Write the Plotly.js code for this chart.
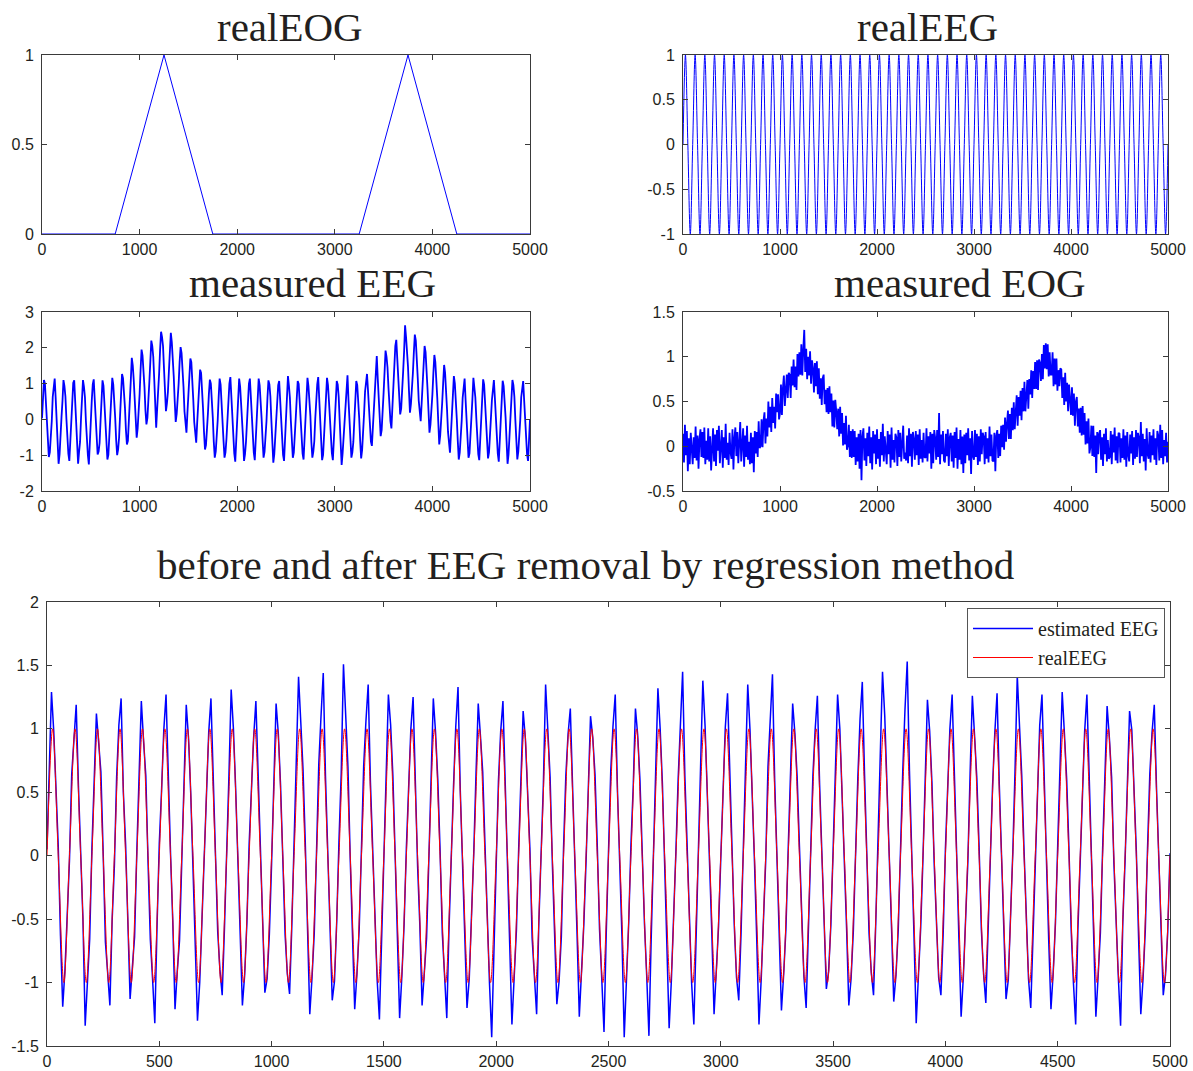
<!DOCTYPE html>
<html>
<head>
<meta charset="utf-8">
<script src="https://cdn.plot.ly/plotly-3.0.1.min.js"></script>
<style>
  html, body { margin: 0; padding: 0; background: #ffffff; }
  #chart { width: 1193px; height: 1071px; }
</style>
</head>
<body>
<div id="chart"></div>
<script>
// ---------------- data ----------------
const realEOG_x = [0, 750, 1250, 1750, 3250, 3750, 4250, 5000];
const realEOG_y = [0, 0, 1, 0, 0, 1, 0, 0];

// realEEG: one value every 25 samples (zero, peak, zero, trough ...)
const realEEG_step = 25;
const realEEG = [
0,1,0,-1,0,1,0,-1,0,1,0,-1,0,1,0,-1,0,1,0,-1,0,1,0,-1,0,1,0,-1,0,1,0,-1,0,1,0,-1,0,1,0,-1,
0,1,0,-1,0,1,0,-1,0,1,0,-1,0,1,0,-1,0,1,0,-1,0,1,0,-1,0,1,0,-1,0,1,0,-1,0,1,0,-1,0,1,0,-1,
0,1,0,-1,0,1,0,-1,0,1,0,-1,0,1,0,-1,0,1,0,-1,0,1,0,-1,0,1,0,-1,0,1,0,-1,0,1,0,-1,0,1,0,-1,
0,1,0,-1,0,1,0,-1,0,1,0,-1,0,1,0,-1,0,1,0,-1,0,1,0,-1,0,1,0,-1,0,1,0,-1,0,1,0,-1,0,1,0,-1,
0,1,0,-1,0,1,0,-1,0,1,0,-1,0,1,0,-1,0,1,0,-1,0,1,0,-1,0,1,0,-1,0,1,0,-1,0,1,0,-1,0,1,0,-1,
0];

// sampled every 10 samples
const sampleStep = 10;

const measuredEEG = [
0.03,0.68,1.1,1.0,0.55,0.06,-0.64,-1.05,-0.92,-0.52,
-0.05,0.63,0.99,1.14,0.6,-0.04,-0.55,-1.24,-0.98,-0.6,
0.07,0.52,1.1,0.93,0.64,0.02,-0.67,-0.96,-1.16,-0.51,
-0.06,0.61,1.02,1.09,0.5,0.09,-0.57,-1.24,-0.9,-0.63,
0.04,0.66,1.1,0.91,0.62,-0.05,-0.64,-1.0,-1.26,-0.55,
0.08,0.53,0.98,1.12,0.57,0.03,-0.52,-0.98,-0.9,-0.66,
-0.04,0.65,1.09,0.94,0.51,-0.08,-0.63,-1.12,-0.99,-0.5,
0.06,0.55,1.16,0.98,0.64,0.04,-0.58,-1.0,-0.84,-0.5,
0.12,0.8,1.27,1.15,0.83,0.33,-0.3,-0.7,-0.6,-0.15,
0.45,1.1,1.72,1.5,1.1,0.6,-0.05,-0.51,-0.25,0.12,
0.7,1.38,1.95,1.78,1.4,0.9,0.25,-0.14,0.04,0.42,
1.05,1.62,2.2,2.05,1.75,1.12,0.55,-0.23,0.3,0.7,
1.28,1.95,2.45,2.3,2.05,1.42,0.8,0.23,0.45,0.76,
1.33,1.9,2.42,2.15,1.75,1.2,0.5,-0.07,0.15,0.48,
1.0,1.6,2.02,1.85,1.45,0.9,0.22,-0.2,-0.37,0.18,
0.75,1.3,1.7,1.6,1.2,0.55,-0.08,-0.45,-0.65,-0.1,
0.42,1.02,1.39,1.3,0.88,0.3,-0.36,-0.84,-0.72,-0.4,
0.16,0.72,1.11,1.0,0.6,0.05,-0.62,-1.07,-0.9,-0.57,
-0.03,0.62,1.14,0.97,0.55,0.06,-0.6,-1.07,-0.92,-0.54,
0.05,0.57,1.0,1.18,0.63,-0.04,-0.66,-0.95,-1.18,-0.58,
-0.06,0.66,1.14,0.92,0.52,0.08,-0.53,-1.16,-0.97,-0.63,
0.04,0.54,0.99,1.14,0.61,-0.07,-0.62,-0.93,-1.14,-0.5,
0.08,0.63,1.14,0.95,0.56,0.03,-0.57,-1.07,-0.91,-0.6,
-0.05,0.6,1.09,0.98,0.64,-0.02,-0.65,-1.21,-0.97,-0.53,
0.06,0.55,0.96,1.07,0.53,0.07,-0.55,-0.99,-1.16,-0.62,
-0.02,0.64,1.21,0.94,0.6,-0.05,-0.63,-1.07,-0.93,-0.56,
0.05,0.58,1.07,0.99,0.5,0.04,-0.58,-0.96,-1.12,-0.5,
-0.07,0.67,1.16,0.93,0.62,0.09,-0.64,-1.07,-0.9,-0.61,
0.03,0.56,0.98,1.18,0.57,-0.06,-0.54,-1.14,-0.99,-0.55,
0.07,0.62,1.16,0.96,0.52,0.02,-0.61,-0.94,-1.14,-0.59,
-0.04,0.59,1.07,0.97,0.63,-0.03,-0.67,-1.27,-0.95,-0.52,
0.05,0.65,0.99,1.23,0.56,0.06,-0.56,-1.07,-0.92,-0.63,
-0.03,0.6,1.07,0.96,0.55,0.04,-0.6,-1.09,-0.85,-0.44,
0.16,0.78,1.15,1.27,0.82,0.27,-0.3,-0.62,-0.74,-0.2,
0.42,1.08,1.5,1.77,1.15,0.6,-0.02,-0.47,-0.3,0.1,
0.74,1.33,1.92,1.75,1.45,0.88,0.28,-0.05,-0.25,0.4,
1.0,1.66,2.05,2.22,1.7,1.18,0.58,0.14,0.3,0.7,
1.32,1.9,2.63,2.3,2.0,1.47,0.8,0.19,0.43,0.76,
1.29,1.88,2.37,2.2,1.76,1.15,0.52,0.13,-0.05,0.45,
1.03,1.56,2.05,1.88,1.5,0.85,0.24,-0.37,-0.15,0.17,
0.7,1.3,1.8,1.6,1.18,0.6,-0.06,-0.7,-0.45,-0.1,
0.45,1.0,1.52,1.3,0.9,0.27,-0.35,-0.72,-0.93,-0.4,
0.15,0.72,1.21,1.0,0.6,0.02,-0.6,-1.12,-0.93,-0.57,
-0.04,0.6,0.98,1.14,0.55,-0.06,-0.63,-1.07,-0.95,-0.52,
0.06,0.57,1.16,0.94,0.62,0.03,-0.55,-0.97,-1.14,-0.6,
-0.03,0.64,1.12,0.97,0.52,0.08,-0.64,-1.09,-0.92,-0.55,
0.05,0.55,0.99,1.1,0.6,-0.04,-0.58,-0.96,-1.18,-0.62,
-0.06,0.66,1.08,0.93,0.57,0.05,-0.61,-1.24,-0.98,-0.5,
0.04,0.59,1.1,0.96,0.63,-0.02,-0.54,-1.12,-0.9,-0.58,
-0.02,0.62,0.97,1.07,0.54,0.07,-0.66,-0.98,-1.16,-0.61,
0.0];

const measuredEOG = [
0.14,-0.18,0.24,-0.1,0.17,-0.28,0.09,-0.2,0.15,-0.06,
-0.2,0.1,-0.13,0.22,-0.16,0.12,-0.25,0.08,0.19,-0.12,
0.16,-0.13,0.21,-0.2,0.06,-0.15,0.2,-0.17,0.11,-0.27,
-0.08,0.2,-0.17,0.13,-0.22,0.18,-0.05,0.23,-0.19,0.09,
0.18,-0.24,0.1,-0.13,0.25,-0.15,0.04,-0.21,0.15,-0.07,
-0.14,0.19,-0.26,0.09,0.21,-0.11,0.16,-0.19,0.07,0.27,
-0.17,0.06,0.2,-0.23,0.12,-0.12,0.23,-0.15,0.05,-0.2,
0.15,-0.19,0.1,-0.29,0.17,-0.08,0.16,-0.12,0.28,-0.02,
0.0,0.3,-0.01,0.28,0.38,0.03,0.31,0.11,0.5,0.21,
0.44,0.16,0.54,0.26,0.44,0.2,0.59,0.38,0.58,0.3,
0.37,0.69,0.35,0.65,0.79,0.45,0.68,0.8,0.54,0.82,
0.8,0.54,0.89,0.68,0.97,0.66,0.89,0.63,1.03,0.78,
1.05,0.8,1.14,0.79,1.08,1.3,0.83,1.09,0.75,1.0,
0.79,1.06,0.7,0.96,0.87,0.6,0.93,0.67,0.95,0.58,
0.87,0.53,0.76,0.46,0.76,0.8,0.47,0.63,0.38,0.65,
0.36,0.67,0.38,0.59,0.22,0.51,0.21,0.52,0.39,0.19,
0.42,0.11,0.44,0.14,0.37,0.01,0.26,0.02,0.34,-0.04,
0.01,0.24,-0.12,0.17,-0.13,0.19,-0.12,0.17,-0.21,0.1,
-0.17,0.14,-0.25,0.18,-0.38,0.11,0.2,-0.16,0.09,-0.22,
0.15,-0.11,0.22,-0.19,0.1,-0.26,0.17,-0.08,0.13,-0.2,
0.19,-0.14,0.08,-0.23,0.16,-0.1,0.25,-0.17,0.11,-0.13,
-0.2,0.17,-0.09,0.13,-0.24,0.21,-0.15,0.07,-0.18,0.14,
0.1,-0.22,0.18,-0.12,0.15,-0.17,0.09,0.23,-0.14,-0.07,
-0.16,0.12,-0.19,0.2,-0.11,0.14,-0.23,0.16,0.08,-0.15,
0.17,-0.1,0.13,-0.21,0.19,-0.14,0.07,-0.18,0.15,-0.12,
-0.13,0.2,-0.17,0.11,-0.08,0.16,-0.25,0.14,-0.19,0.18,
0.09,-0.15,0.18,-0.12,0.37,-0.2,0.13,-0.09,0.17,-0.16,
-0.18,0.14,-0.11,0.19,-0.22,0.1,0.15,-0.17,0.12,-0.24,
0.16,-0.13,0.21,-0.25,0.08,-0.15,0.18,-0.2,0.11,-0.3,
0.13,-0.19,0.15,-0.1,0.2,-0.16,0.09,-0.31,0.17,-0.11,
-0.15,0.18,-0.12,0.14,-0.21,0.11,-0.17,0.19,-0.09,0.15,
0.11,-0.2,0.16,-0.14,0.09,-0.18,0.22,-0.11,0.13,-0.16,
-0.17,0.15,-0.28,0.12,0.18,-0.13,0.14,-0.11,0.23,-0.01,
0.24,-0.04,0.32,0.05,0.25,0.4,0.08,0.36,0.08,0.43,
0.18,0.49,0.19,0.46,0.57,0.23,0.55,0.34,0.62,0.29,
0.65,0.39,0.72,0.39,0.67,0.74,0.42,0.75,0.58,0.85,
0.54,0.84,0.64,0.94,0.64,0.96,0.63,0.97,0.93,0.73,
1.03,0.75,1.13,0.87,1.15,0.86,1.14,0.78,1.05,0.8,
0.8,1.05,0.67,0.98,0.69,0.98,0.62,0.85,0.67,0.87,
0.86,0.54,0.77,0.46,0.82,0.5,0.71,0.39,0.69,0.44,
0.35,0.66,0.34,0.59,0.23,0.5,0.55,0.22,0.42,0.15,
0.43,0.12,0.45,0.13,0.37,0.02,0.28,0.03,0.31,-0.08,
-0.01,0.23,-0.11,0.23,-0.12,0.12,-0.3,0.16,-0.09,0.14,
0.18,-0.15,0.1,-0.22,0.14,-0.09,0.2,-0.17,0.07,-0.14,
-0.12,0.17,-0.2,0.13,-0.07,0.21,-0.16,0.11,-0.19,0.15,
0.14,-0.18,0.09,-0.13,0.19,-0.15,0.12,-0.23,0.16,-0.1,
-0.17,0.13,-0.08,0.17,-0.21,0.1,-0.14,0.18,-0.12,0.15,
0.1,-0.19,0.27,-0.11,0.14,-0.17,0.08,-0.27,0.2,-0.09,
-0.14,0.16,-0.18,0.12,-0.1,0.19,-0.15,0.09,-0.21,0.17,
0.12,-0.16,0.24,-0.13,0.18,-0.2,0.07,-0.11,0.15,-0.18,
0.05];

const estimatedEEG = [
0.05,0.66,1.29,0.98,0.52,0.08,-0.63,-1.19,-0.9,-0.52,
-0.04,0.64,0.92,1.19,0.55,-0.07,-0.5,-1.34,-0.98,-0.66,
0.06,0.53,1.12,0.89,0.66,0.03,-0.68,-0.92,-1.18,-0.51,
-0.08,0.62,1.03,1.24,0.5,0.09,-0.55,-1.13,-0.88,-0.64,
0.04,0.69,1.22,0.9,0.63,-0.06,-0.66,-0.97,-1.32,-0.55,
0.1,0.51,0.99,1.27,0.57,0.02,-0.52,-1.21,-0.91,-0.67,
-0.05,0.67,1.19,0.93,0.49,-0.1,-0.64,-1.3,-1.0,-0.5,
0.07,0.56,0.97,1.24,0.65,0.05,-0.6,-0.9,-1.1,-0.58,
-0.02,0.63,1.31,1.0,0.53,-0.04,-0.69,-1.18,-0.94,-0.53,
0.09,0.58,0.93,1.22,0.61,0.06,-0.54,-1.08,-0.97,-0.62,
-0.06,0.66,1.2,0.96,0.55,-0.03,-0.62,-0.93,-1.09,-0.56,
0.08,0.6,1.41,1.05,0.68,0.1,-0.57,-1.25,-0.96,-0.61,
0.03,0.72,1.1,1.44,0.62,0.04,-0.5,-1.14,-0.99,-0.52,
0.12,0.65,1.51,1.12,0.7,-0.02,-0.63,-1.21,-0.93,-0.58,
0.05,0.71,1.06,1.35,0.58,0.07,-0.59,-0.98,-1.29,-0.6,
-0.03,0.62,1.27,1.03,0.63,0.01,-0.66,-1.28,-0.95,-0.54,
0.06,0.57,1.0,1.25,0.54,-0.08,-0.55,-1.18,-0.92,-0.65,
-0.04,0.68,1.24,0.97,0.6,0.05,-0.61,-0.94,-1.28,-0.57,
0.08,0.55,1.02,1.33,0.52,-0.05,-0.67,-1.2,-0.97,-0.5,
0.02,0.64,1.2,0.94,0.66,0.09,-0.53,-1.0,-1.43,-0.63,
-0.07,0.59,0.98,1.22,0.57,-0.02,-0.6,-1.33,-0.96,-0.59,
0.05,0.7,1.14,0.92,0.5,0.06,-0.65,-0.95,-1.25,-0.52,
-0.03,0.56,1.35,1.01,0.62,-0.06,-0.56,-1.17,-0.99,-0.64,
0.07,0.63,0.96,1.16,0.55,0.03,-0.62,-1.27,-0.93,-0.55,
-0.05,0.58,1.1,0.93,0.64,0.08,-0.58,-0.97,-1.39,-0.61,
0.04,0.67,1.02,1.27,0.51,-0.04,-0.64,-1.43,-1.0,-0.53,
0.09,0.54,1.16,0.95,0.6,0.02,-0.53,-0.94,-1.42,-0.66,
-0.06,0.65,1.32,1.0,0.57,-0.07,-0.68,-1.36,-0.98,-0.51,
0.03,0.6,1.06,1.45,0.63,0.05,-0.57,-1.0,-1.33,-0.6,
0.08,0.69,1.38,1.02,0.52,-0.03,-0.61,-1.25,-0.95,-0.56,
-0.02,0.57,1.01,1.28,0.65,0.07,-0.55,-0.96,-1.14,-0.62,
0.06,0.64,1.35,0.99,0.54,-0.05,-0.66,-1.33,-0.97,-0.54,
-0.04,0.7,1.05,1.43,0.59,0.04,-0.59,-1.22,-0.93,-0.58,
0.05,0.56,1.2,0.96,0.62,0.08,-0.52,-0.95,-1.2,-0.63,
-0.07,0.63,0.99,1.26,0.56,-0.02,-0.63,-1.05,-0.91,-0.55,
0.04,0.68,1.27,1.0,0.5,0.06,-0.57,-1.18,-0.97,-0.6,
0.1,0.61,1.08,1.37,0.64,-0.04,-0.61,-0.92,-1.1,-0.53,
0.07,0.72,1.45,1.1,0.6,0.03,-0.56,-1.15,-0.94,-0.59,
0.12,0.66,1.15,1.53,0.67,0.08,-0.62,-1.32,-0.99,-0.57,
-0.03,0.6,1.23,0.98,0.58,-0.06,-0.54,-0.96,-1.1,-0.62,
0.05,0.57,1.0,1.27,0.53,0.02,-0.65,-1.27,-0.95,-0.51,
-0.05,0.65,1.26,0.94,0.61,0.07,-0.58,-0.93,-1.16,-0.6,
0.06,0.55,0.97,1.28,0.56,-0.03,-0.6,-1.13,-0.98,-0.55,
0.02,0.67,1.42,1.02,0.63,0.05,-0.53,-0.97,-1.2,-0.64,
-0.06,0.59,1.03,1.27,0.52,-0.04,-0.67,-1.21,-0.92,-0.53,
0.08,0.63,1.29,0.96,0.6,0.06,-0.59,-1.0,-1.33,-0.58,
-0.02,0.56,0.98,1.27,0.55,0.01,-0.62,-1.27,-0.95,-0.61,
0.05,0.66,1.18,0.93,0.62,-0.05,-0.56,-0.96,-1.34,-0.52,
-0.04,0.6,1.14,0.99,0.57,0.04,-0.64,-1.25,-0.97,-0.59,
0.06,0.64,0.97,1.19,0.53,-0.03,-0.58,-1.1,-0.94,-0.6,
0.02];

// ticks
const xTicks1000 = [0, 1000, 2000, 3000, 4000, 5000];
const xLabels1000 = ["0", "1000", "2000", "3000", "4000", "5000"];
const xTicks500 = [0, 500, 1000, 1500, 2000, 2500, 3000, 3500, 4000, 4500, 5000];
const xLabels500 = ["0", "500", "1000", "1500", "2000", "2500", "3000", "3500", "4000", "4500", "5000"];
const yTicksRealEOG = [0, 0.5, 1];
const yLabelsRealEOG = ["0", "0.5", "1"];
const yTicksRealEEG = [-1, -0.5, 0, 0.5, 1];
const yLabelsRealEEG = ["-1", "-0.5", "0", "0.5", "1"];
const yTicksMeasEEG = [-2, -1, 0, 1, 2, 3];
const yLabelsMeasEEG = ["-2", "-1", "0", "1", "2", "3"];
const yTicksMeasEOG = [-0.5, 0, 0.5, 1, 1.5];
const yLabelsMeasEOG = ["-0.5", "0", "0.5", "1", "1.5"];
const yTicksBottom = [-1.5, -1, -0.5, 0, 0.5, 1, 1.5, 2];
const yLabelsBottom = ["-1.5", "-1", "-0.5", "0", "0.5", "1", "1.5", "2"];

// titles
const titles = ["realEOG", "realEEG", "measured EEG", "measured EOG", "before and after EEG removal by regression method"];
const seriesNames = ["estimated EEG", "realEEG"];

// ---------------- layout helpers ----------------
const W = 1193, H = 1071;
const BLUE = "#0000ff", RED = "#ff0000";
const AXC = "#3a3a3a", TXT = "#231f20";
const tickFont = { family: "Liberation Sans, Arial, sans-serif", size: 16, color: TXT };
const serif = "Liberation Serif, Times New Roman, serif";

function px2x(p) { return p / W; }
function px2y(p) { return 1 - p / H; }

function axis(domain, anchor, range, vals, text, isY) {
  return {
    domain: domain, anchor: anchor, range: range,
    tickmode: "array", tickvals: vals, ticktext: text,
    showgrid: false, zeroline: false,
    showline: true, linecolor: AXC, linewidth: 1, mirror: "ticks",
    ticks: "inside", ticklen: 5, tickwidth: 1, tickcolor: AXC,
    tickfont: tickFont, ticklabelstandoff: isY ? 4 : 1,
    fixedrange: true
  };
}

const dxL = [px2x(42), px2x(530)];
const dxR = [px2x(683), px2x(1168)];
const dxB = [px2x(47), px2x(1170)];
const dyT = [px2y(234), px2y(55)];
const dyM = [px2y(491), px2y(312)];
const dyB = [px2y(1046), px2y(602)];

const traces = [
  { type: "scatter", mode: "lines", x: realEOG_x, y: realEOG_y, xaxis: "x", yaxis: "y",
    line: { color: BLUE, width: 1 }, showlegend: false, hoverinfo: "skip" },
  { type: "scatter", mode: "lines", y: realEEG, x0: 0, dx: realEEG_step, xaxis: "x2", yaxis: "y2",
    line: { color: BLUE, width: 1, shape: "spline", smoothing: 1 }, showlegend: false, hoverinfo: "skip" },
  { type: "scatter", mode: "lines", y: measuredEEG, x0: 0, dx: sampleStep, xaxis: "x3", yaxis: "y3",
    line: { color: BLUE, width: 1.8 }, showlegend: false, hoverinfo: "skip" },
  { type: "scatter", mode: "lines", y: measuredEOG, x0: 0, dx: sampleStep, xaxis: "x4", yaxis: "y4",
    line: { color: BLUE, width: 1.8 }, showlegend: false, hoverinfo: "skip" },
  { type: "scatter", mode: "lines", name: seriesNames[0], y: estimatedEEG, x0: 0, dx: sampleStep, xaxis: "x5", yaxis: "y5",
    line: { color: BLUE, width: 1.5 }, showlegend: true, hoverinfo: "skip" },
  { type: "scatter", mode: "lines", name: seriesNames[1], y: realEEG, x0: 0, dx: realEEG_step, xaxis: "x5", yaxis: "y5",
    line: { color: RED, width: 1, shape: "spline", smoothing: 1 }, showlegend: true, hoverinfo: "skip" }
];

function titleAnn(text, cx, cy) {
  return { text: text, xref: "paper", yref: "paper", x: px2x(cx), y: px2y(cy),
    xanchor: "center", yanchor: "middle", showarrow: false,
    font: { family: serif, size: 41, color: TXT } };
}

const layout = {
  width: W, height: H,
  margin: { l: 0, r: 0, t: 0, b: 0 },
  paper_bgcolor: "#ffffff", plot_bgcolor: "#ffffff",
  showlegend: true,
  legend: {
    x: px2x(1165), xanchor: "right", y: px2y(608), yanchor: "top",
    bgcolor: "#ffffff", bordercolor: "#555555", borderwidth: 1,
    font: { family: serif, size: 20, color: TXT },
    tracegroupgap: 0, itemwidth: 60
  },
  xaxis:  axis(dxL, "y",  [0, 5000], xTicks1000, xLabels1000, false),
  yaxis:  axis(dyT, "x",  [0, 1], yTicksRealEOG, yLabelsRealEOG, true),
  xaxis2: axis(dxR, "y2", [0, 5000], xTicks1000, xLabels1000, false),
  yaxis2: axis(dyT, "x2", [-1, 1], yTicksRealEEG, yLabelsRealEEG, true),
  xaxis3: axis(dxL, "y3", [0, 5000], xTicks1000, xLabels1000, false),
  yaxis3: axis(dyM, "x3", [-2, 3], yTicksMeasEEG, yLabelsMeasEEG, true),
  xaxis4: axis(dxR, "y4", [0, 5000], xTicks1000, xLabels1000, false),
  yaxis4: axis(dyM, "x4", [-0.5, 1.5], yTicksMeasEOG, yLabelsMeasEOG, true),
  xaxis5: axis(dxB, "y5", [0, 5000], xTicks500, xLabels500, false),
  yaxis5: axis(dyB, "x5", [-1.5, 2], yTicksBottom, yLabelsBottom, true),
  annotations: [
    titleAnn(titles[0], 290, 27),
    titleAnn(titles[1], 927, 27),
    titleAnn(titles[2], 312, 283),
    titleAnn(titles[3], 960, 283),
    titleAnn(titles[4], 585, 565)
  ]
};

Plotly.newPlot("chart", traces, layout, { displayModeBar: false, staticPlot: true });
</script>
</body>
</html>
